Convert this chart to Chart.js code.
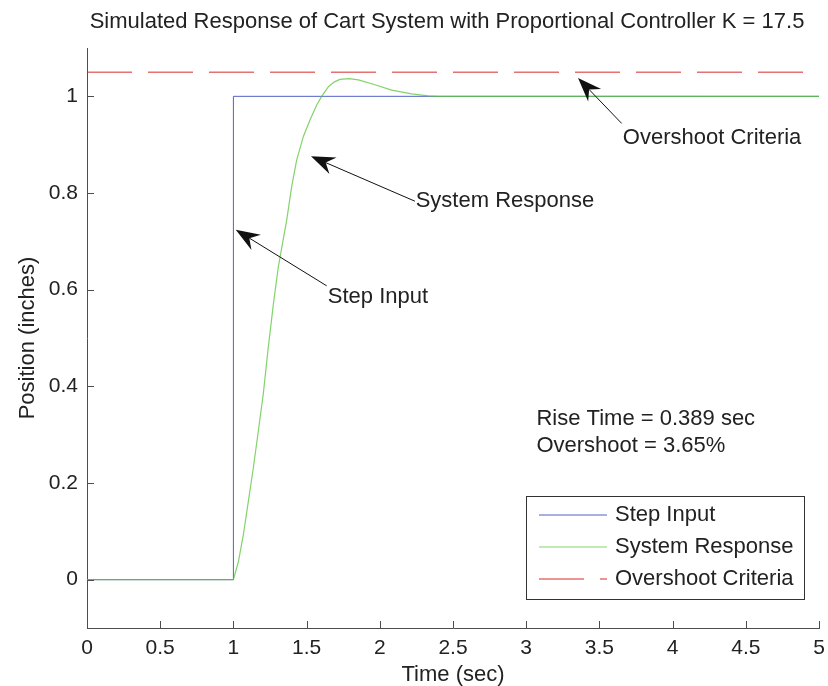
<!DOCTYPE html>
<html>
<head>
<meta charset="utf-8">
<title>Simulated Response of Cart System</title>
<script src="https://cdn.jsdelivr.net/npm/chart.js@4.4.1/dist/chart.umd.min.js"></script>
<style>
  body { margin: 0; background: #fff; }
  #wrap { width: 828px; height: 686px; }
</style>
</head>
<body>
<div id="wrap"><canvas id="myChart" width="828" height="686"></canvas></div>
<script>
// data
var stepT = [0, 1, 1, 5];
var stepV = [0, 0, 1, 1];

var respT = [0, 1.0, 1.034, 1.068, 1.102, 1.136, 1.170, 1.204, 1.238, 1.273, 1.307, 1.364, 1.398, 1.432,
             1.478, 1.523, 1.569, 1.603, 1.649, 1.69, 1.728, 1.79, 1.854, 1.967, 2.081, 2.217, 2.331, 2.4, 5];
var respV = [0, 0, 0.037, 0.093, 0.162, 0.231, 0.307, 0.384, 0.480, 0.570, 0.647, 0.744, 0.813, 0.868,
             0.917, 0.951, 0.982, 1.000, 1.020, 1.030, 1.035, 1.0365, 1.034, 1.024, 1.013, 1.005, 1.001, 1.0, 1.0];

var critT = [0, 5];
var critV = [1.05, 1.05];

var xTicks = [0, 0.5, 1, 1.5, 2, 2.5, 3, 3.5, 4, 4.5, 5];
var yTicks = [0, 0.2, 0.4, 0.6, 0.8, 1];

var titleText = 'Simulated Response of Cart System with Proportional Controller K = 17.5';
var seriesNames = ['Step Input', 'System Response', 'Overshoot Criteria'];
var seriesColors = ['#5262c8', 'rgba(90,196,56,0.75)', '#d82a2a'];

// arrows: tip (t,v) -> tail (t,v), label starts at tail
var arrowText = ['Overshoot Criteria', 'System Response', 'Step Input'];
var arrowTip = [[3.354, 1.038], [1.530, 0.876], [1.016, 0.724]];
var arrowTail = [[3.652, 0.944], [2.240, 0.783], [1.637, 0.608]];
var arrowLabelPos = [[3.66, 0.914], [2.245, 0.783], [1.645, 0.584]];

var noteLines = ['Rise Time = 0.389 sec', 'Overshoot = 3.65%'];
var notePos = [[3.07, 0.333], [3.07, 0.277]];

var FONT = '"Liberation Sans", Arial, Helvetica, sans-serif';
var TXT = '#222';

function pts(xs, ys) {
  return xs.map(function (x, i) { return { x: x, y: ys[i] }; });
}

// title centred over the axes rather than the canvas
var axesTitle = {
  id: 'axesTitle',
  afterDraw: function (chart) {
    var ctx = chart.ctx;
    ctx.save();
    ctx.font = '22px ' + FONT;
    ctx.fillStyle = TXT;
    ctx.textAlign = 'center';
    ctx.textBaseline = 'middle';
    ctx.fillText(titleText, 447, 22);
    ctx.restore();
  }
};

// inward tick marks, like the original axes
var insideTicks = {
  id: 'insideTicks',
  afterDraw: function (chart) {
    var ctx = chart.ctx, xs = chart.scales.x, ys = chart.scales.y;
    ctx.save();
    ctx.strokeStyle = '#4d4d4d';
    ctx.lineWidth = 1;
    ctx.beginPath();
    xTicks.forEach(function (t) {
      var px = Math.round(xs.getPixelForValue(t)) + 0.5;
      ctx.moveTo(px, ys.bottom);
      ctx.lineTo(px, ys.bottom - 7);
    });
    yTicks.forEach(function (v) {
      var py = Math.round(ys.getPixelForValue(v)) + 0.5;
      ctx.moveTo(xs.left, py);
      ctx.lineTo(xs.left + 7, py);
    });
    ctx.stroke();
    ctx.restore();
  }
};

function drawArrow(ctx, x1, y1, x2, y2) {
  // line from tail (x1,y1) to tip (x2,y2)
  var ang = Math.atan2(y2 - y1, x2 - x1);
  var L = 24, W = 9, N = 16;
  var c = Math.cos(ang), s = Math.sin(ang);
  ctx.beginPath();
  ctx.moveTo(x1, y1);
  ctx.lineTo(x2 - c * N, y2 - s * N);
  ctx.stroke();
  ctx.beginPath();
  ctx.moveTo(x2, y2);
  ctx.lineTo(x2 - c * L - s * W, y2 - s * L + c * W);
  ctx.lineTo(x2 - c * N, y2 - s * N);
  ctx.lineTo(x2 - c * L + s * W, y2 - s * L - c * W);
  ctx.closePath();
  ctx.fill();
}

var annotations = {
  id: 'annotations',
  afterDraw: function (chart) {
    var ctx = chart.ctx, xs = chart.scales.x, ys = chart.scales.y;
    ctx.save();
    ctx.strokeStyle = '#111';
    ctx.fillStyle = '#111';
    ctx.lineWidth = 1;
    arrowText.forEach(function (txt, i) {
      drawArrow(ctx,
        xs.getPixelForValue(arrowTail[i][0]), ys.getPixelForValue(arrowTail[i][1]),
        xs.getPixelForValue(arrowTip[i][0]), ys.getPixelForValue(arrowTip[i][1]));
    });
    ctx.font = '22px ' + FONT;
    ctx.fillStyle = TXT;
    ctx.textBaseline = 'middle';
    ctx.textAlign = 'left';
    arrowText.forEach(function (txt, i) {
      ctx.fillText(txt, xs.getPixelForValue(arrowLabelPos[i][0]), ys.getPixelForValue(arrowLabelPos[i][1]));
    });
    noteLines.forEach(function (txt, i) {
      ctx.fillText(txt, xs.getPixelForValue(notePos[i][0]), ys.getPixelForValue(notePos[i][1]));
    });
    ctx.restore();
  }
};

// boxed legend inside the axes, lower right
var boxLegend = {
  id: 'boxLegend',
  afterDraw: function (chart) {
    var ctx = chart.ctx;
    var bx = 526, by = 496, bw = 278, bh = 103;
    ctx.save();
    ctx.fillStyle = '#fff';
    ctx.fillRect(bx, by, bw, bh);
    ctx.strokeStyle = '#333';
    ctx.lineWidth = 1;
    ctx.strokeRect(bx + 0.5, by + 0.5, bw, bh);
    ctx.font = '22px ' + FONT;
    ctx.textBaseline = 'middle';
    chart.data.datasets.forEach(function (ds, i) {
      var y = by + 19 + i * 32;
      ctx.lineWidth = 1.2;
      ctx.strokeStyle = seriesColors[i];
      ctx.setLineDash(ds.borderDash || []);
      ctx.beginPath();
      ctx.moveTo(539, y);
      ctx.lineTo(607, y);
      ctx.stroke();
      ctx.setLineDash([]);
      ctx.fillStyle = TXT;
      ctx.fillText(ds.label, 615, y);
    });
    ctx.restore();
  }
};

var ctx = document.getElementById('myChart').getContext('2d');
var myChart = new Chart(ctx, {
  type: 'line',
  data: {
    datasets: [{
      label: seriesNames[0],
      data: pts(stepT, stepV),
      borderColor: seriesColors[0],
      borderWidth: 1,
      pointRadius: 0,
      tension: 0,
      order: 2
    }, {
      label: seriesNames[1],
      data: pts(respT, respV),
      borderColor: seriesColors[1],
      borderWidth: 1.2,
      pointRadius: 0,
      tension: 0,
      order: 1
    }, {
      label: seriesNames[2],
      data: pts(critT, critV),
      borderColor: seriesColors[2],
      borderWidth: 1,
      borderDash: [45, 16],
      pointRadius: 0,
      tension: 0,
      order: 3
    }]
  },
  options: {
    responsive: false,
    devicePixelRatio: 1,
    animation: false,
    layout: { padding: { left: 0, right: 9, top: 48, bottom: 0 } },
    plugins: {
      legend: { display: false },
      tooltip: { enabled: false },
      title: { display: false }
    },
    scales: {
      x: {
        type: 'linear',
        min: 0,
        max: 5,
        grid: { display: false, drawTicks: false },
        border: { display: true, color: '#4d4d4d', width: 1 },
        afterBuildTicks: function (scale) {
          scale.ticks = xTicks.map(function (v) { return { value: v }; });
        },
        afterFit: function (scale) {
          scale.height = 58;
          scale.paddingLeft = 0;
          scale.paddingRight = 0;
        },
        ticks: {
          color: TXT,
          padding: 8,
          maxRotation: 0,
          autoSkip: false,
          font: { family: FONT, size: 21 },
          callback: function (v) { return String(+v.toFixed(2)); }
        },
        title: {
          display: true,
          text: 'Time (sec)',
          color: TXT,
          font: { family: FONT, size: 22 },
          padding: { top: 0, bottom: -2.5 }
        }
      },
      y: {
        type: 'linear',
        min: -0.1,
        max: 1.1,
        grid: { display: false, drawTicks: false },
        border: { display: true, color: '#4d4d4d', width: 1 },
        afterBuildTicks: function (scale) {
          scale.ticks = yTicks.map(function (v) { return { value: v }; });
        },
        afterFit: function (scale) {
          scale.width = 87;
          scale.paddingTop = 0;
          scale.paddingBottom = 0;
        },
        ticks: {
          color: TXT,
          padding: 9,
          autoSkip: false,
          font: { family: FONT, size: 21 },
          callback: function (v) { return String(+v.toFixed(2)); }
        },
        title: {
          display: true,
          text: 'Position (inches)',
          color: TXT,
          font: { family: FONT, size: 22 },
          padding: { top: 15, bottom: 0 }
        }
      }
    }
  },
  plugins: [insideTicks, annotations, boxLegend, axesTitle]
});
</script>
</body>
</html>
